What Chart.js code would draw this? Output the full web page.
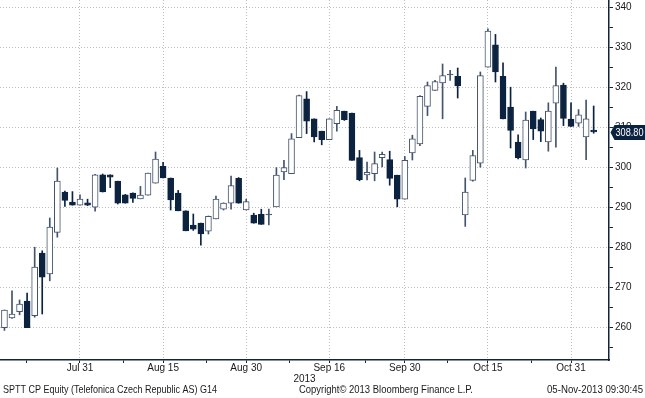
<!DOCTYPE html>
<html><head><meta charset="utf-8">
<script src="https://cdn.jsdelivr.net/npm/chart.js@4/dist/chart.umd.min.js"></script>
<style>html,body{margin:0;padding:0;background:#fff;overflow:hidden}canvas{display:block}</style>
</head><body>
<canvas id="c" width="645" height="398"></canvas>
<script>
// ---- data (trading days, Prague SE) ----
const dates = [
 '2013-07-17','2013-07-18','2013-07-19','2013-07-22','2013-07-23','2013-07-24','2013-07-25','2013-07-26','2013-07-29','2013-07-30','2013-07-31',
 '2013-08-01','2013-08-02','2013-08-05','2013-08-06','2013-08-07','2013-08-08','2013-08-09','2013-08-12','2013-08-13','2013-08-14','2013-08-15','2013-08-16','2013-08-19','2013-08-20','2013-08-21','2013-08-22','2013-08-23','2013-08-26','2013-08-27','2013-08-28','2013-08-29','2013-08-30',
 '2013-09-02','2013-09-03','2013-09-04','2013-09-05','2013-09-06','2013-09-09','2013-09-10','2013-09-11','2013-09-12','2013-09-13','2013-09-16','2013-09-17','2013-09-18','2013-09-19','2013-09-20','2013-09-23','2013-09-24','2013-09-25','2013-09-26','2013-09-27','2013-09-30',
 '2013-10-01','2013-10-02','2013-10-03','2013-10-04','2013-10-07','2013-10-08','2013-10-09','2013-10-10','2013-10-11','2013-10-14','2013-10-15','2013-10-16','2013-10-17','2013-10-18','2013-10-21','2013-10-22','2013-10-23','2013-10-24','2013-10-25','2013-10-29','2013-10-30','2013-10-31',
 '2013-11-01','2013-11-04','2013-11-05'
];
const openV = [
 259.9,262.3,263.9,266.5,262.9,278.5,273.3,283.7,293.8,291.3,290.5,
 291.1,290.0,298.1,298.1,296.5,293.1,293.5,292.1,293.0,296.0,300.2,297.3,293.5,289.1,285.5,286.0,284.0,287.1,289.5,291.0,297.2,289.3,
 288.0,288.2,288.1,290.1,298.8,298.4,307.4,317.1,312.1,309.0,306.9,310.9,314.0,313.5,302.4,298.1,298.4,302.4,301.9,298.0,
 292.0,303.6,305.8,315.2,319.2,321.1,323.1,322.7,288.1,296.7,301.0,325.0,330.6,322.7,315.0,306.3,301.8,314.0,311.9,306.3,316.0,320.5,
 312.0,311.0,307.6,309.3
];
const highV = [
 264.3,269.1,266.8,268.5,280.0,279.1,287.3,299.8,294.0,293.9,293.1,
 292.0,298.2,298.3,298.1,296.5,293.2,293.6,295.2,298.5,303.8,301.2,297.3,294.2,289.1,288.3,286.0,287.8,292.8,291.1,297.8,297.4,292.0,
 288.5,289.5,289.5,299.9,301.7,308.4,318.0,318.9,312.1,309.0,312.1,315.2,314.0,313.5,304.2,301.3,303.8,303.8,304.0,298.0,
 302.7,308.0,317.9,321.3,321.7,325.8,324.2,324.8,297.3,304.2,323.8,334.6,333.2,326.1,320.0,308.1,313.8,314.0,312.3,316.1,325.0,321.0,
 316.1,314.4,316.8,315.3
];
const lowV = [
 259.2,262.2,263.1,259.9,262.5,263.3,271.6,282.5,290.2,290.5,290.5,
 290.4,289.0,293.8,294.9,290.8,291.0,291.2,292.1,293.0,296.0,297.3,289.3,289.1,284.1,284.2,280.5,283.3,287.1,289.3,289.5,291.0,289.3,
 286.0,285.7,285.6,290.1,296.9,298.4,307.4,308.4,306.3,305.6,306.9,309.0,311.7,301.7,296.6,296.8,296.6,300.1,295.5,290.1,
 292.0,301.8,305.4,312.9,319.2,312.1,321.7,317.3,285.2,296.5,300.0,325.0,321.3,312.1,304.8,302.1,299.8,306.9,306.4,304.0,305.0,310.4,
 310.2,310.2,301.9,308.5
];
const closeV = [
 264.3,263.3,265.8,259.9,275.0,272.5,285.0,296.5,291.7,290.5,292.0,
 290.5,298.1,293.8,297.5,291.0,291.0,292.2,293.0,298.5,302.0,297.3,291.8,289.1,284.1,284.5,283.3,287.7,292.0,291.0,295.4,291.0,291.4,
 286.0,285.7,288.3,298.0,299.9,307.1,317.9,311.5,307.6,306.9,312.1,314.2,311.9,301.7,296.9,298.7,300.9,303.2,297.2,292.0,
 301.7,307.1,317.7,320.4,321.4,322.9,323.3,320.3,293.8,302.9,322.9,334.0,323.8,312.1,309.2,302.3,311.8,309.6,309.0,314.0,320.4,312.2,
 310.2,313.1,312.1,308.8
];
// ---- axis ticks ----
const majorTickDates = ['2013-07-31','2013-08-15','2013-08-30','2013-09-16','2013-09-30','2013-10-15','2013-10-31'];
const majorTickLabels = ['Jul 31','Aug 15','Aug 30','Sep 16','Sep 30','Oct 15','Oct 31'];
const minorTickIdx = [2.9, 15.8, 26.8, 37.8, 47.8, 58.7, 69.8];
const yTickValues = [255,260,265,270,275,280,285,290,295,300,305,310,315,320,325,330,335,340];
const yLabelStep = 10;
const xTitle = '2013';
const footerLeft = 'SPTT CP Equity (Telefonica Czech Republic AS) G14';
const footerMid = 'Copyright\u00A9 2013 Bloomberg Finance L.P.';
const footerRight = '05-Nov-2013 09:30:45';

// ---- styling ----
const NAVY = '#0c2340';
const OUTLINE = '#44546c';
const GRID = '#bdbdbd';
const AXIS = '#13233b';
const TXT = '#1a1a1a';
const FONT = "'Liberation Sans', Arial, sans-serif";

const majorIdx = majorTickDates.map(d => dates.indexOf(d));
const xTickVals = majorIdx.concat(minorTickIdx).sort((a,b)=>a-b);
const isUp = i => closeV[i] >= openV[i];

const wickData = dates.map((d,i) => ({x:i, y:[lowV[i], highV[i]]}));
const bodyData = dates.map((d,i) => ({x:i, y:[openV[i], closeV[i]]}));

const footerPlugin = {
  id:'footer',
  afterDraw(chart){
    const ctx = chart.ctx;
    ctx.save();
    ctx.fillStyle = TXT;
    ctx.font = '10.5px ' + FONT;
    ctx.textBaseline = 'middle';
    ctx.textAlign = 'left';
    ctx.fillText(footerLeft, 3, 390, 214);
    ctx.fillText(footerMid, 299, 390, 174);
    ctx.textAlign = 'right';
    ctx.fillText(footerRight, 643, 390, 96);
    ctx.restore();
  }
};
const lastFlagPlugin = {
  id:'lastFlag',
  afterDraw(chart){
    const {ctx, scales:{y}, chartArea} = chart;
    const v = closeV[closeV.length-1];
    const py = Math.round(y.getPixelForValue(v)) + 0.5;
    const tip = chartArea.right + 1.5;
    const h = 15;
    ctx.save();
    ctx.fillStyle = NAVY;
    ctx.beginPath();
    ctx.moveTo(tip, py);
    ctx.lineTo(tip + 4, py - h/2);
    ctx.lineTo(650, py - h/2);
    ctx.lineTo(650, py + h/2);
    ctx.lineTo(tip + 4, py + h/2);
    ctx.closePath();
    ctx.fill();
    ctx.fillStyle = '#ffffff';
    ctx.font = '10.5px ' + FONT;
    ctx.textBaseline = 'middle';
    ctx.textAlign = 'left';
    ctx.fillText(v.toFixed(2), tip + 5, py + 0.5, 28);
    ctx.restore();
  }
};

new Chart(document.getElementById('c'), {
  type:'bar',
  data:{
    datasets:[
      { label:'wick', data: wickData, order:2, grouped:false, barThickness:1, borderWidth:0,
        backgroundColor: c => isUp(c.dataIndex) ? OUTLINE : NAVY },
      { label:'body', data: bodyData, order:1, grouped:false, barThickness:6, borderWidth:1, borderSkipped:false,
        backgroundColor: c => { const i=c.dataIndex; if (Math.abs(closeV[i]-openV[i])<0.4) return isUp(i)?OUTLINE:NAVY; return isUp(i) ? '#ffffff' : NAVY; },
        borderColor: c => isUp(c.dataIndex) ? OUTLINE : NAVY }
    ]
  },
  options:{
    responsive:false, animation:false, devicePixelRatio:1, events:[],
    layout:{padding:0},
    plugins:{legend:{display:false}, tooltip:{enabled:false}},
    scales:{
      x:{
        type:'linear', min:-0.59, max:80.03, offset:false,
        grid:{offset:false, lineWidth:1, tickLength:3, tickColor:AXIS,
              color: c => (c.tick && majorIdx.includes(c.tick.value)) ? GRID : 'rgba(0,0,0,0)'},
        border:{display:true, color:AXIS, width:1.5, dash:[1,2]},
        ticks:{autoSkip:false, maxRotation:0, minRotation:0, padding:0, color:TXT,
               font:{family:FONT, size:10, lineHeight:1},
               callback: v => { const k = majorIdx.indexOf(v); return k>=0 ? majorTickLabels[k] : ''; }},
        title:{display:true, text:xTitle, color:TXT, font:{family:FONT, size:10, lineHeight:1}, padding:{top:0, bottom:14}},
        afterBuildTicks: s => { s.ticks = xTickVals.map(v => ({value:v})); },
        afterFit: s => { s.height = 38; s.paddingLeft = 0; s.paddingRight = 0; }
      },
      y:{
        type:'linear', position:'right', min:251.8, max:341.8, beginAtZero:false,
        grid:{lineWidth:1, tickLength:4, tickColor:AXIS,
              color: c => (c.tick && c.tick.value % yLabelStep === 0) ? GRID : 'rgba(0,0,0,0)'},
        border:{display:true, color:AXIS, width:1.5, dash:[1,2]},
        ticks:{padding:2, color:TXT, font:{family:FONT, size:10, lineHeight:1},
               callback: v => (v % yLabelStep === 0) ? String(v) : ''},
        afterBuildTicks: s => { s.ticks = yTickValues.map(v => ({value:v})); },
        afterFit: s => { s.width = 36; s.paddingTop = 0; s.paddingBottom = 0; }
      }
    }
  },
  plugins:[footerPlugin, lastFlagPlugin]
});
</script>
</body></html>
